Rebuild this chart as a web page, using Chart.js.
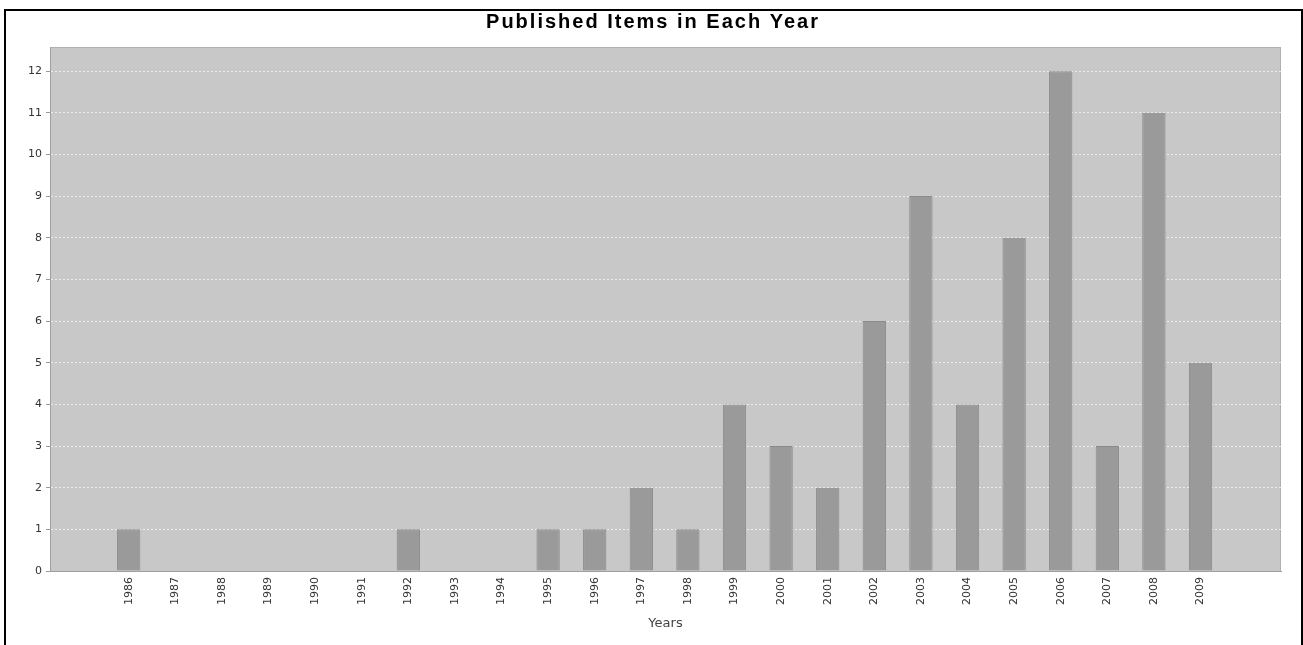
<!DOCTYPE html>
<html>
<head>
<meta charset="utf-8">
<script src="https://cdn.jsdelivr.net/npm/chart.js@4.4.1/dist/chart.umd.min.js"></script>
<style>
html,body{margin:0;padding:0;background:#fff;}
#wrap{position:relative;width:1303px;height:645px;}
</style>
</head>
<body>
<div id="wrap"><canvas id="c" width="1303" height="645"></canvas></div>
<script>
const chartTitle = "Published Items in Each Year";
const xAxisTitle = "Years";
const years = ["1986","1987","1988","1989","1990","1991","1992","1993","1994","1995","1996","1997","1998","1999","2000","2001","2002","2003","2004","2005","2006","2007","2008","2009"];
const counts = [1,0,0,0,0,0,1,0,0,1,1,2,1,4,3,2,6,9,4,8,12,3,11,5];
const yTicks = [0,1,2,3,4,5,6,7,8,9,10,11,12];

const decor = {
  id: 'decor',
  beforeDraw(chart) {
    const ctx = chart.ctx, a = chart.chartArea;
    ctx.save();
    ctx.fillStyle = '#ffffff';
    ctx.fillRect(0, 0, chart.width, chart.height);
    ctx.fillStyle = '#000000';
    ctx.fillRect(4, 9, 2, chart.height - 9);
    ctx.fillRect(4, 9, 1299, 2);
    ctx.fillRect(1301, 9, 2, chart.height - 9);
    ctx.fillStyle = '#c8c8c8';
    ctx.fillRect(a.left, a.top, a.right - a.left, a.bottom - a.top);
    ctx.strokeStyle = '#b0b0b0';
    ctx.lineWidth = 1;
    ctx.beginPath();
    ctx.moveTo(a.left, a.top + 0.5);
    ctx.lineTo(a.right, a.top + 0.5);
    ctx.moveTo(a.right - 0.5, a.top);
    ctx.lineTo(a.right - 0.5, a.bottom);
    ctx.stroke();
    ctx.restore();
  },
  afterDraw(chart) {
    const ctx = chart.ctx;
    ctx.save();
    ctx.fillStyle = '#000000';
    ctx.font = 'bold 20px "Liberation Sans", Arial, sans-serif';
    try { ctx.letterSpacing = '2px'; } catch (e) {}
    ctx.textAlign = 'center';
    ctx.textBaseline = 'alphabetic';
    ctx.fillText(chartTitle, 653, 28);
    ctx.restore();
  }
};

new Chart(document.getElementById('c'), {
  type: 'bar',
  data: {
    datasets: [{
      data: counts.map((v, i) => ({x: i, y: v})),
      backgroundColor: '#9a9a9a',
      borderColor: '#8a8a8a',
      borderWidth: 1,
      barPercentage: 1,
      categoryPercentage: 0.5
    }]
  },
  options: {
    responsive: false,
    animation: false,
    devicePixelRatio: 1,
    layout: {padding: {left: 0, right: 22, top: 47, bottom: 0}},
    plugins: {legend: {display: false}, tooltip: {enabled: false}, title: {display: false}},
    scales: {
      x: {
        type: 'linear',
        offset: false,
        min: -1.689,
        max: 24.727,
        grid: {display: false, drawTicks: false, offset: false},
        border: {display: true, color: '#a0a0a0', width: 1},
        ticks: {
          stepSize: 1,
          autoSkip: false,
          maxRotation: 90,
          minRotation: 90,
          padding: 6,
          color: '#333333',
          font: {family: '"DejaVu Sans", sans-serif', size: 11},
          callback: (v) => years[v] !== undefined ? years[v] : ''
        },
        afterBuildTicks(scale) {
          scale.ticks = years.map((y, i) => ({value: i}));
        },
        afterFit(scale) { scale.height = 74; },
        title: {
          display: true,
          text: xAxisTitle,
          color: '#444444',
          font: {family: '"DejaVu Sans", sans-serif', size: 13},
          padding: {top: 4, bottom: 14}
        }
      },
      y: {
        min: 0,
        max: 12.58,
        grid: {
          color: 'rgba(240,240,240,0.9)',
          lineWidth: 1,
          drawTicks: true,
          tickLength: 4,
          tickColor: '#999999',
          tickBorderDash: []
        },
        border: {display: true, color: '#a0a0a0', width: 1, dash: [2, 2]},
        ticks: {
          stepSize: 1,
          padding: 4,
          color: '#333333',
          font: {family: '"DejaVu Sans", sans-serif', size: 11}
        },
        afterBuildTicks(scale) {
          scale.ticks = yTicks.map(v => ({value: v}));
        },
        afterFit(scale) { scale.width = 50; }
      }
    }
  },
  plugins: [decor]
});
</script>
</body>
</html>
